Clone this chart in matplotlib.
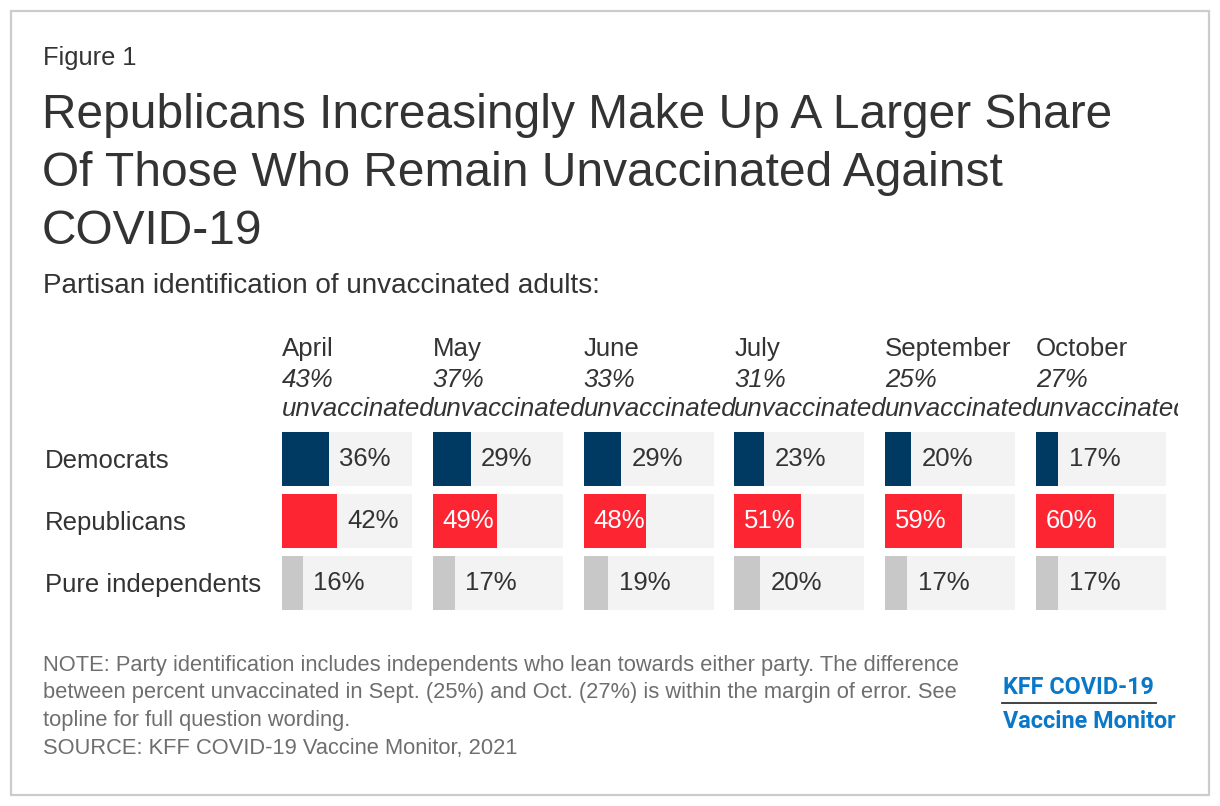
import matplotlib.pyplot as plt
from matplotlib.patches import Rectangle

# Data
months = ["April", "May", "June", "July", "September", "October"]
unvaccinated = [43, 37, 33, 31, 25, 27]
parties = ["Democrats", "Republicans", "Pure independents"]
democrats = [36, 29, 29, 23, 20, 17]
republicans = [42, 49, 48, 51, 59, 60]
independents = [16, 17, 19, 20, 17, 17]

party_colors = ["#003a63", "#fd2532", "#c8c8c8"]
track_color = "#f3f3f3"
dark = "#333333"
note_gray = "#6e6e6e"

plt.rcParams['font.family'] = ['Liberation Sans', 'DejaVu Sans']

W, H = 1220, 806
fig = plt.figure(figsize=(W / 100, H / 100), dpi=100)

# full-figure overlay in pixel units for text and frame
bg = fig.add_axes([0, 0, 1, 1])
bg.set_xlim(0, W)
bg.set_ylim(H, 0)
bg.axis('off')
bg.add_patch(Rectangle((11, 11), 1198, 784, fill=False, ec='#cccccc', lw=1.6))

bg.text(43, 58, "Figure 1", fontsize=18.3, color=dark, va='center')
title_lines = ["Republicans Increasingly Make Up A Larger Share",
               "Of Those Who Remain Unvaccinated Against",
               "COVID-19"]
for k, line in enumerate(title_lines):
    bg.text(42, 115 + k * 58.5, line, fontsize=34.5, color=dark, va='center')
bg.text(43, 286, "Partisan identification of unvaccinated adults:",
        fontsize=20.1, color=dark, va='center')

# row labels
for j, p in enumerate(parties):
    bg.text(45, 461 + j * 62, p, fontsize=18.5, color=dark, va='center')

# column headers (clipped at the right like the original)
hdr = fig.add_axes([0, 1 - 425 / H, 1178 / W, 95 / H])
hdr.set_xlim(0, 1178)
hdr.set_ylim(425, 330)
hdr.axis('off')

col_left = 282
col_step = 150.8
for i, m in enumerate(months):
    x0 = col_left + i * col_step
    hdr.text(x0, 349, m, fontsize=18.6, color=dark, va='center', clip_on=True)
    hdr.text(x0, 380, f"{unvaccinated[i]}%", fontsize=18.6, color=dark,
             style='italic', va='center', clip_on=True)
    hdr.text(x0, 409, "unvaccinated", fontsize=18.6, color=dark,
             style='italic', va='center', clip_on=True)

# bars, one small axes per month
for i, m in enumerate(months):
    x0 = col_left + i * col_step
    ax = fig.add_axes([x0 / W, 1 - 614 / H, 130 / W, 186 / H])
    vals = [democrats[i], republicans[i], independents[i]]
    ax.barh(range(3), [100] * 3, height=0.87, color=track_color)
    ax.barh(range(3), vals, height=0.87, color=party_colors)
    ax.set_xlim(0, 100)
    ax.set_ylim(2.5, -0.5)
    ax.axis('off')
    for j, v in enumerate(vals):
        if v >= 45:
            ax.annotate(f"{v}%", (0, j), xytext=(7.2, 0), textcoords='offset points',
                        fontsize=18.5, color='white', va='center')
        else:
            ax.annotate(f"{v}%", (v, j), xytext=(7.6, 0), textcoords='offset points',
                        fontsize=18.5, color=dark, va='center')

notes = ["NOTE: Party identification includes independents who lean towards either party. The difference",
         "between percent unvaccinated in Sept. (25%) and Oct. (27%) is within the margin of error. See",
         "topline for full question wording.",
         "SOURCE: KFF COVID-19 Vaccine Monitor, 2021"]
for k, line in enumerate(notes):
    bg.text(43, 665 + k * 27.8, line, fontsize=15.75, color=note_gray, va='center')

# logo
kff_blue = "#0a78c8"
bg.text(1003, 688, "KFF COVID-19", fontsize=16.8, color=kff_blue, fontweight='bold',
        family='Roboto', va='center')
bg.plot([1002, 1156], [703, 703], color=dark, lw=1.3)
bg.text(1003, 722, "Vaccine Monitor", fontsize=16.8, color=kff_blue, fontweight='bold',
        family='Roboto', va='center')

fig.savefig("out.png", dpi=100)
